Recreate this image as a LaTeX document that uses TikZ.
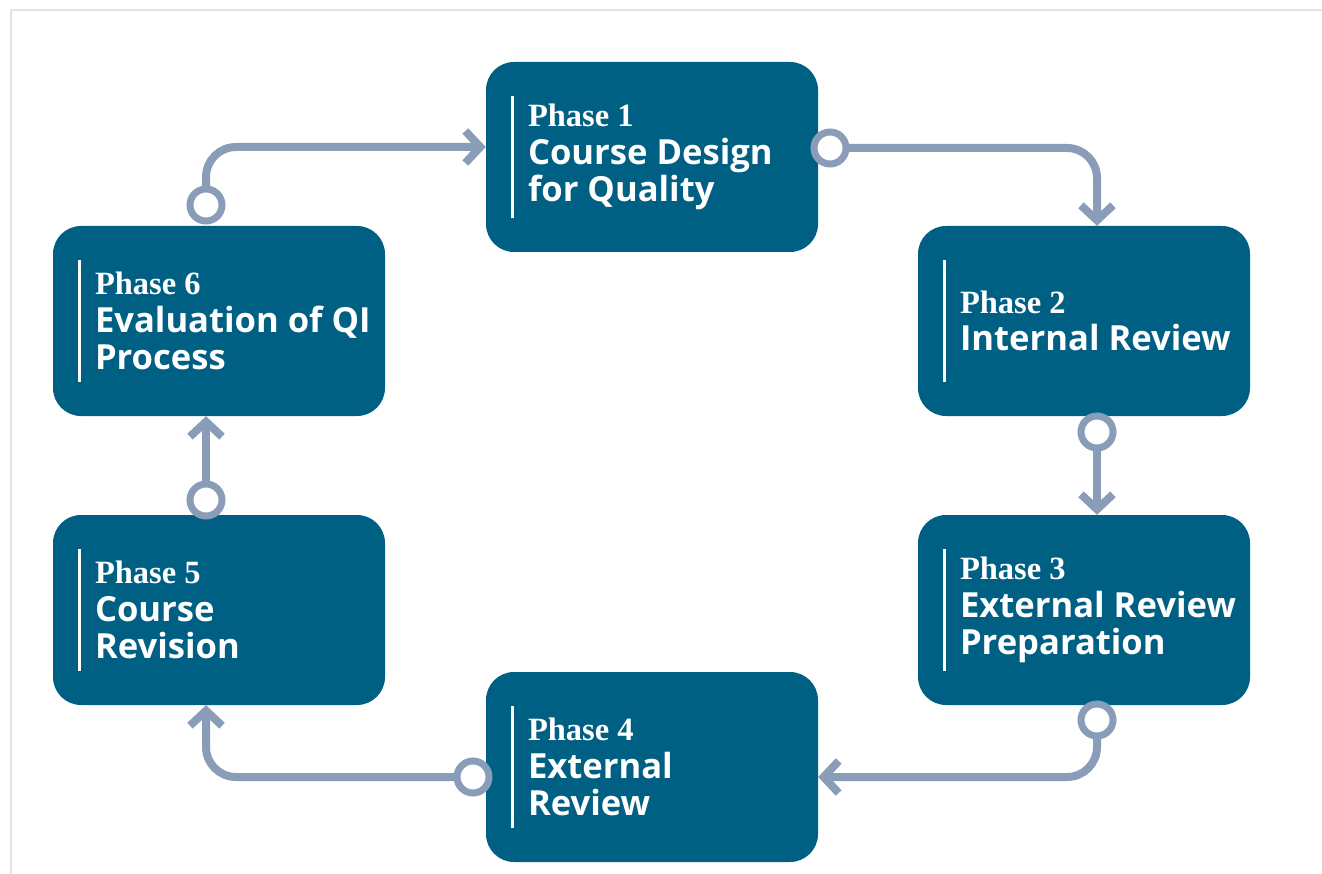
\documentclass[tikz,border=0pt]{standalone}
\usepackage{fontspec}
\setmainfont{Open Sans}
\newfontfamily\phasefont{Liberation Serif}
\usetikzlibrary{arrows.meta}
\definecolor{boxblue}{HTML}{006084}
\definecolor{connc}{HTML}{8A9DB8}
\definecolor{framegray}{HTML}{E3E3E3}
\tikzset{
  phasebox/.style={fill=boxblue, rounded corners=28pt, minimum width=332pt, minimum height=190pt, inner sep=0pt},
  connline/.style={draw=connc, line width=8pt, rounded corners=30pt, -{Straight Barb[length=15pt,width=32pt]}},
  port/.style={circle, draw=connc, fill=white, line width=7pt, minimum size=32pt, inner sep=0pt},
  phasetext/.style={anchor=west, align=left, text=white, inner sep=0pt, font=\fontsize{34.6}{37.5}\selectfont\bfseries},
  bar/.style={draw=white, line width=3pt},
}
\newcommand{\ph}[1]{{\phasefont\fontsize{32.5}{37.5}\selectfont Phase #1}}
\begin{document}
\begin{tikzpicture}[x=1pt,y=-1pt]
\useasboundingbox (0,0) rectangle (1322,874);
\draw[framegray, line width=2pt] (11,874) -- (11,10) -- (1322,10);

% boxes
\node[phasebox] (box1) at (652,157) {};
\node[phasebox] (box2) at (1084,321) {};
\node[phasebox] (box3) at (1084,610) {};
\node[phasebox] (box4) at (652,767) {};
\node[phasebox] (box5) at (219,610) {};
\node[phasebox] (box6) at (219,321) {};

% bars
\foreach \b in {box1,box2,box3,box4,box5,box6}{
  \draw[bar] ([xshift=27pt,yshift=61pt]\b.west) -- ([xshift=27pt,yshift=-61pt]\b.west);
}

% texts
\node[phasetext] (t1) at ([xshift=42pt]box1.west) {\ph{1}\\Course Design\\for Quality};
\node[phasetext] (t2) at ([xshift=42pt]box2.west) {\ph{2}\\Internal Review};
\node[phasetext] (t3) at ([xshift=42pt]box3.west) {\ph{3}\\External Review\\Preparation};
\node[phasetext] (t4) at ([xshift=42pt]box4.west) {\ph{4}\\External\\Review};
\node[phasetext] (t5) at ([xshift=42pt]box5.west) {\ph{5}\\Course\\Revision};
\node[phasetext] (t6) at ([xshift=42pt]box6.west) {\ph{6}\\Evaluation of QI\\Process};

% ports
\coordinate (p61) at (206,205);
\coordinate (p12) at (830,148);
\coordinate (p23) at (1097,432);
\coordinate (p34) at (1097,720);
\coordinate (p45) at (473,777);
\coordinate (p56) at (206,500);

% connectors
\draw[connline] (p61) |- ([yshift=10pt]box1.west);
\draw[connline] (p12) -| ([xshift=13pt]box2.north);
\draw[connline] (p23) -- ([xshift=13pt]box3.north);
\draw[connline] (p34) |- ([yshift=-10pt]box4.east);
\draw[connline] (p45) -| ([xshift=-13pt]box5.south);
\draw[connline] (p56) -- ([xshift=-13pt]box6.south);

\node[port] (c61) at (p61) {};
\node[port] (c12) at (p12) {};
\node[port] (c23) at (p23) {};
\node[port] (c34) at (p34) {};
\node[port] (c45) at (p45) {};
\node[port] (c56) at (p56) {};
\end{tikzpicture}
\end{document}
